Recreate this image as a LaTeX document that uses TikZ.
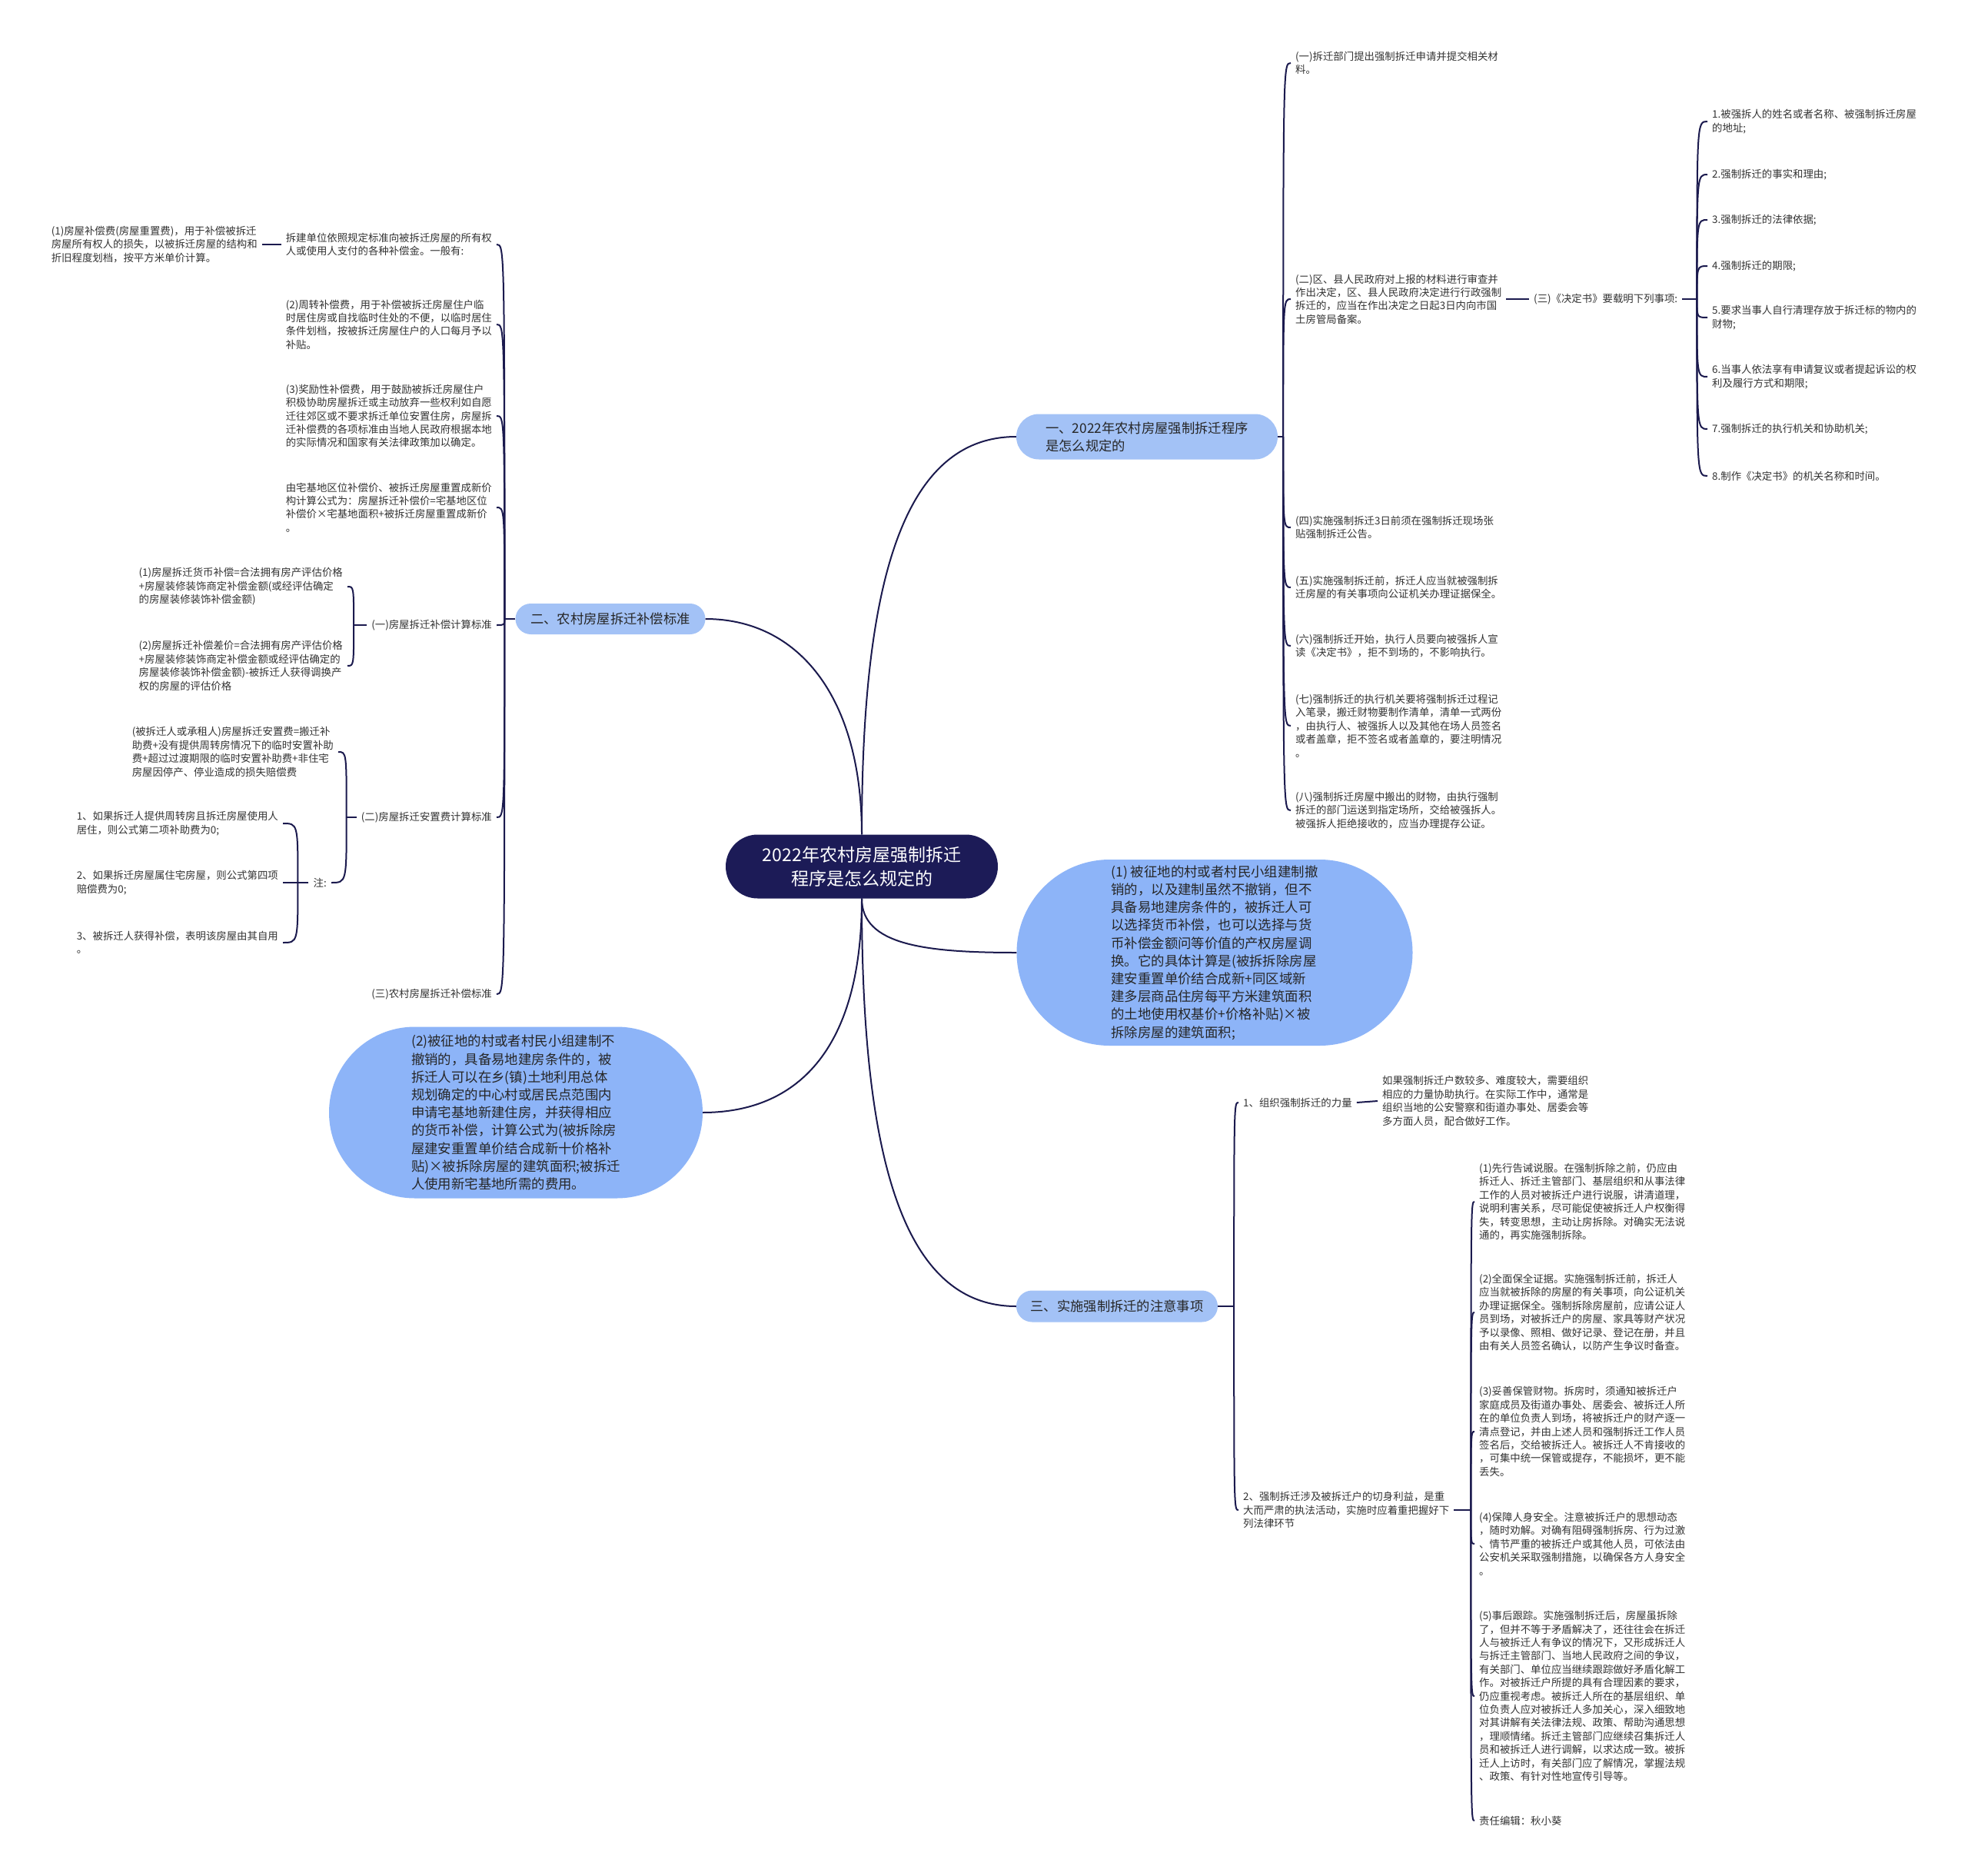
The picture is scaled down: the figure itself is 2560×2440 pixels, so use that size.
\documentclass[tikz,border=0pt]{standalone}
\usepackage{fontspec}
\setmainfont{Noto Sans CJK SC}
\usetikzlibrary{calc,shapes.misc}

\definecolor{linkc}{HTML}{1B1A4E}
\definecolor{rootc}{HTML}{1C1B57}
\definecolor{branchc}{HTML}{A3C2F6}
\definecolor{bubblec}{HTML}{8DB4F8}
\definecolor{textc}{HTML}{333333}

\begin{document}
\begin{tikzpicture}[
  x=1pt,
  y=-1pt,
  link/.style={draw=linkc,line width=2pt},
  root/.style={rounded rectangle,fill=rootc,text=white,align=center,inner sep=0pt,
    minimum width=354pt,minimum height=83pt,font=\fontsize{23}{31}\selectfont},
  branch/.style={rounded rectangle,fill=branchc,text=black!85,align=left,inner sep=0pt,
    font=\fontsize{17.3}{23}\selectfont},
  bubble/.style={rounded rectangle,fill=bubblec,text=black!85,align=left,inner sep=0pt,
    font=\fontsize{17.4}{23.2}\selectfont},
  leaf/.style={text=textc,align=left,inner xsep=6pt,inner ysep=0pt,
    font=\fontsize{13.4}{17.4}\selectfont}
]

\path[use as bounding box,fill=white] (0,0) rectangle (2560,2440);

% Root and main branches
\node[root] (root) at (1121,1127) {2022年农村房屋强制拆迁\\程序是怎么规定的};
\node[branch,minimum width=340pt,minimum height=59pt] (b1) at (1492,568)
  {一、2022年农村房屋强制拆迁程序\\是怎么规定的};
\node[branch,minimum width=247pt,minimum height=40pt] (b2) at (794,805) {二、农村房屋拆迁补偿标准};
\node[branch,minimum width=262pt,minimum height=41pt] (b3) at (1453,1699) {三、实施强制拆迁的注意事项};
\node[bubble,minimum width=515pt,minimum height=242pt] (bub1) at (1580,1239)
  {(1) 被征地的村或者村民小组建制撤\\销的，以及建制虽然不撤销，但不\\具备易地建房条件的，被拆迁人可\\以选择货币补偿，也可以选择与货\\币补偿金额问等价值的产权房屋调\\换。它的具体计算是(被拆拆除房屋\\建安重置单价结合成新+同区域新\\建多层商品住房每平方米建筑面积\\的土地使用权基价+价格补贴)×被\\拆除房屋的建筑面积;};
\node[bubble,minimum width=486pt,minimum height=223pt] (bub2) at (671,1447)
  {(2)被征地的村或者村民小组建制不\\撤销的，具备易地建房条件的，被\\拆迁人可以在乡(镇)土地利用总体\\规划确定的中心村或居民点范围内\\申请宅基地新建住房，并获得相应\\的货币补偿，计算公式为(被拆除房\\屋建安重置单价结合成新十价格补\\贴)×被拆除房屋的建筑面积;被拆迁\\人使用新宅基地所需的费用。};

\draw[link] (root.north) .. controls +(0,-320) and +(-150,0) .. (b1.west);
\draw[link] (root.north) .. controls +(0,-180) and +(120,0) .. (b2.east);
\draw[link] (root.south) .. controls +(0,60) and +(-120,0) .. (bub1.west);
\draw[link] (root.south) .. controls +(0,200) and +(120,0) .. (bub2.east);
\draw[link] (root.south) .. controls +(0,330) and +(-150,0) .. (b3.west);

% Branch 1: procedure
\node[leaf,anchor=west] (p1) at (1679,82) {(一)拆迁部门提出强制拆迁申请并提交相关材\\料。};
\node[leaf,anchor=west] (p2) at (1679,389) {(二)区、县人民政府对上报的材料进行审查并\\作出决定，区、县人民政府决定进行行政强制\\拆迁的，应当在作出决定之日起3日内向市国\\土房管局备案。};
\node[leaf,anchor=west] (p4) at (1679,686) {(四)实施强制拆迁3日前须在强制拆迁现场张\\贴强制拆迁公告。};
\node[leaf,anchor=west] (p5) at (1679,764) {(五)实施强制拆迁前，拆迁人应当就被强制拆\\迁房屋的有关事项向公证机关办理证据保全。};
\node[leaf,anchor=west] (p6) at (1679,840) {(六)强制拆迁开始，执行人员要向被强拆人宣\\读《决定书》，拒不到场的，不影响执行。};
\node[leaf,anchor=west] (p7) at (1679,944) {(七)强制拆迁的执行机关要将强制拆迁过程记\\入笔录，搬迁财物要制作清单，清单一式两份\\，由执行人、被强拆人以及其他在场人员签名\\或者盖章，拒不签名或者盖章的，要注明情况\\。};
\node[leaf,anchor=west] (p8) at (1679,1054) {(八)强制拆迁房屋中搬出的财物，由执行强制\\拆迁的部门运送到指定场所，交给被强拆人。\\被强拆人拒绝接收的，应当办理提存公证。};
\node[leaf,anchor=west] (p3) at (1989,389) {(三)《决定书》要载明下列事项:};

\node[leaf,anchor=west] (q1) at (2221,158) {1.被强拆人的姓名或者名称、被强制拆迁房屋\\的地址;};
\node[leaf,anchor=west] (q2) at (2221,227) {2.强制拆迁的事实和理由;};
\node[leaf,anchor=west] (q3) at (2221,286) {3.强制拆迁的法律依据;};
\node[leaf,anchor=west] (q4) at (2221,346) {4.强制拆迁的期限;};
\node[leaf,anchor=west] (q5) at (2221,413) {5.要求当事人自行清理存放于拆迁标的物内的\\财物;};
\node[leaf,anchor=west] (q6) at (2221,490) {6.当事人依法享有申请复议或者提起诉讼的权\\利及履行方式和期限;};
\node[leaf,anchor=west] (q7) at (2221,558) {7.强制拆迁的执行机关和协助机关;};
\node[leaf,anchor=west] (q8) at (2221,619) {8.制作《决定书》的机关名称和时间。};

\coordinate (j1) at ($(b1.east)+(7,0)$);
\draw[link] (b1.east) -- (j1);
\foreach \n in {p1,p2,p4,p5,p6,p7,p8}
  \draw[link] (j1) .. controls (j1 |- \n.west) .. (\n.west);
\draw[link] (p2.east) -- (p3.west);
\coordinate (j13) at ($(p3.east)+(19,0)$);
\draw[link] (p3.east) -- (j13);
\foreach \n in {q1,q2,q3,q4,q5,q6,q7,q8}
  \draw[link] (j13) .. controls (j13 |- \n.west) .. (\n.west);

% Branch 2: compensation
\node[leaf,anchor=east] (a) at (646,318) {拆建单位依照规定标准向被拆迁房屋的所有权\\人或使用人支付的各种补偿金。一般有:};
\node[leaf,anchor=east] (a1) at (341,318) {(1)房屋补偿费(房屋重置费)，用于补偿被拆迁\\房屋所有权人的损失，以被拆迁房屋的结构和\\折旧程度划档，按平方米单价计算。};
\node[leaf,anchor=east] (b) at (646,422) {(2)周转补偿费，用于补偿被拆迁房屋住户临\\时居住房或自找临时住处的不便，以临时居住\\条件划档，按被拆迁房屋住户的人口每月予以\\补贴。};
\node[leaf,anchor=east] (c) at (646,541) {(3)奖励性补偿费，用于鼓励被拆迁房屋住户\\积极协助房屋拆迁或主动放弃一些权利如自愿\\迁往郊区或不要求拆迁单位安置住房，房屋拆\\迁补偿费的各项标准由当地人民政府根据本地\\的实际情况和国家有关法律政策加以确定。};
\node[leaf,anchor=east] (d) at (646,660) {由宅基地区位补偿价、被拆迁房屋重置成新价\\构计算公式为：房屋拆迁补偿价=宅基地区位\\补偿价×宅基地面积+被拆迁房屋重置成新价\\。};
\node[leaf,anchor=east] (e) at (646,813) {(一)房屋拆迁补偿计算标准};
\node[leaf,anchor=east] (e1) at (452,763) {(1)房屋拆迁货币补偿=合法拥有房产评估价格\\+房屋装修装饰商定补偿金额(或经评估确定\\的房屋装修装饰补偿金额)};
\node[leaf,anchor=east] (e2) at (452,866) {(2)房屋拆迁补偿差价=合法拥有房产评估价格\\+房屋装修装饰商定补偿金额或经评估确定的\\房屋装修装饰补偿金额)-被拆迁人获得调换产\\权的房屋的评估价格};
\node[leaf,anchor=east] (f) at (646,1063) {(二)房屋拆迁安置费计算标准};
\node[leaf,anchor=east] (f1) at (440,978) {(被拆迁人或承租人)房屋拆迁安置费=搬迁补\\助费+没有提供周转房情况下的临时安置补助\\费+超过过渡期限的临时安置补助费+非住宅\\房屋因停产、停业造成的损失赔偿费};
\node[leaf,anchor=east] (n) at (431,1148) {注:};
\node[leaf,anchor=east] (g1) at (368,1071) {1、如果拆迁人提供周转房且拆迁房屋使用人\\居住，则公式第二项补助费为0;};
\node[leaf,anchor=east] (g2) at (368,1148) {2、如果拆迁房屋属住宅房屋，则公式第四项\\赔偿费为0;};
\node[leaf,anchor=east] (g3) at (368,1226) {3、被拆迁人获得补偿，表明该房屋由其自用\\。};
\node[leaf,anchor=east] (h) at (646,1293) {(三)农村房屋拆迁补偿标准};

\coordinate (j2) at ($(b2.west)+(-14,0)$);
\draw[link] (b2.west) -- (j2);
\foreach \n in {a,b,c,d,e,f,h}
  \draw[link] (j2) .. controls (j2 |- \n.east) .. (\n.east);
\draw[link] (a.west) -- (a1.east);
\coordinate (je) at ($(e.west)+(-17,0)$);
\draw[link] (e.west) -- (je);
\foreach \n in {e1,e2}
  \draw[link] (je) .. controls (je |- \n.east) .. (\n.east);
\coordinate (jf) at ($(f.west)+(-13,0)$);
\draw[link] (f.west) -- (jf);
\foreach \n in {f1,n}
  \draw[link] (jf) .. controls (jf |- \n.east) .. (\n.east);
\coordinate (jn) at ($(n.west)+(-14,0)$);
\draw[link] (n.west) -- (jn);
\foreach \n in {g1,g2,g3}
  \draw[link] (jn) .. controls (jn |- \n.east) .. (\n.east);

% Branch 3: points of attention
\node[leaf,anchor=west] (h1) at (1611,1434) {1、组织强制拆迁的力量};
\node[leaf,anchor=west] (h1c) at (1792,1432) {如果强制拆迁户数较多、难度较大，需要组织\\相应的力量协助执行。在实际工作中，通常是\\组织当地的公安警察和街道办事处、居委会等\\多方面人员，配合做好工作。};
\node[leaf,anchor=west] (h2) at (1611,1964) {2、强制拆迁涉及被拆迁户的切身利益，是重\\大而严肃的执法活动，实施时应着重把握好下\\列法律环节};
\node[leaf,anchor=west] (k1) at (1918,1563) {(1)先行告诫说服。在强制拆除之前，仍应由\\拆迁人、拆迁主管部门、基层组织和从事法律\\工作的人员对被拆迁户进行说服，讲清道理，\\说明利害关系，尽可能促使被拆迁人户权衡得\\失，转变思想，主动让房拆除。对确实无法说\\通的，再实施强制拆除。};
\node[leaf,anchor=west] (k2) at (1918,1707) {(2)全面保全证据。实施强制拆迁前，拆迁人\\应当就被拆除的房屋的有关事项，向公证机关\\办理证据保全。强制拆除房屋前，应请公证人\\员到场，对被拆迁户的房屋、家具等财产状况\\予以录像、照相、做好记录、登记在册，并且\\由有关人员签名确认，以防产生争议时备查。};
\node[leaf,anchor=west] (k3) at (1918,1862) {(3)妥善保管财物。拆房时，须通知被拆迁户\\家庭成员及街道办事处、居委会、被拆迁人所\\在的单位负责人到场，将被拆迁户的财产逐一\\清点登记，并由上述人员和强制拆迁工作人员\\签名后，交给被拆迁人。被拆迁人不肯接收的\\，可集中统一保管或提存，不能损坏，更不能\\丢失。};
\node[leaf,anchor=west] (k4) at (1918,2008) {(4)保障人身安全。注意被拆迁户的思想动态\\，随时劝解。对确有阻碍强制拆房、行为过激\\、情节严重的被拆迁户或其他人员，可依法由\\公安机关采取强制措施，以确保各方人身安全\\。};
\node[leaf,anchor=west] (k5) at (1918,2206) {(5)事后跟踪。实施强制拆迁后，房屋虽拆除\\了，但并不等于矛盾解决了，还往往会在拆迁\\人与被拆迁人有争议的情况下，又形成拆迁人\\与拆迁主管部门、当地人民政府之间的争议，\\有关部门、单位应当继续跟踪做好矛盾化解工\\作。对被拆迁户所提的具有合理因素的要求，\\仍应重视考虑。被拆迁人所在的基层组织、单\\位负责人应对被拆迁人多加关心，深入细致地\\对其讲解有关法律法规、政策、帮助沟通思想\\，理顺情绪。拆迁主管部门应继续召集拆迁人\\员和被拆迁人进行调解，以求达成一致。被拆\\迁人上访时，有关部门应了解情况，掌握法规\\、政策、有针对性地宣传引导等。};
\node[leaf,anchor=west] (k6) at (1918,2368) {责任编辑：秋小葵};

\coordinate (j3) at ($(b3.east)+(21,0)$);
\draw[link] (b3.east) -- (j3);
\foreach \n in {h1,h2}
  \draw[link] (j3) .. controls (j3 |- \n.west) .. (\n.west);
\draw[link] (h1.east) -- (h1c.west);
\coordinate (jk) at ($(h2.east)+(22,0)$);
\draw[link] (h2.east) -- (jk);
\foreach \n in {k1,k2,k3,k4,k5,k6}
  \draw[link] (jk) .. controls (jk |- \n.west) .. (\n.west);

\end{tikzpicture}
\end{document}
